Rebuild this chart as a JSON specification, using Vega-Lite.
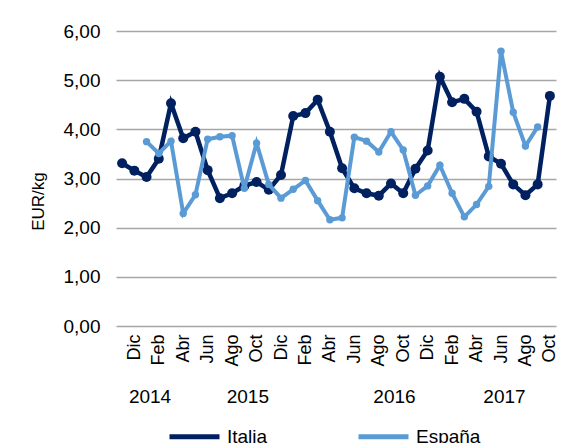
{
  "$schema": "https://vega.github.io/schema/vega-lite/v6.json",
  "width": 440,
  "height": 295,
  "autosize": {"type": "none"},
  "padding": {"left": 116, "top": 31, "right": 23, "bottom": 117},
  "background": "white",
  "config": {
    "font": "Liberation Sans",
    "view": {"stroke": null},
    "axis": {"labelColor": "#000000", "titleColor": "#000000", "labelFont": "Liberation Sans", "titleFont": "Liberation Sans"},
    "legend": {"labelFont": "Liberation Sans"}
  },
  "data": {
    "values": [
      {"mes": "2014-11", "pais": "Italia", "valor": 3.31},
      {"mes": "2014-12", "pais": "Italia", "valor": 3.16},
      {"mes": "2015-01", "pais": "Italia", "valor": 3.03},
      {"mes": "2015-02", "pais": "Italia", "valor": 3.40},
      {"mes": "2015-03", "pais": "Italia", "valor": 4.53},
      {"mes": "2015-04", "pais": "Italia", "valor": 3.82},
      {"mes": "2015-05", "pais": "Italia", "valor": 3.95},
      {"mes": "2015-06", "pais": "Italia", "valor": 3.17},
      {"mes": "2015-07", "pais": "Italia", "valor": 2.60},
      {"mes": "2015-08", "pais": "Italia", "valor": 2.70},
      {"mes": "2015-09", "pais": "Italia", "valor": 2.85},
      {"mes": "2015-10", "pais": "Italia", "valor": 2.93},
      {"mes": "2015-11", "pais": "Italia", "valor": 2.77},
      {"mes": "2015-12", "pais": "Italia", "valor": 3.07},
      {"mes": "2016-01", "pais": "Italia", "valor": 4.27},
      {"mes": "2016-02", "pais": "Italia", "valor": 4.33},
      {"mes": "2016-03", "pais": "Italia", "valor": 4.60},
      {"mes": "2016-04", "pais": "Italia", "valor": 3.95},
      {"mes": "2016-05", "pais": "Italia", "valor": 3.21},
      {"mes": "2016-06", "pais": "Italia", "valor": 2.80},
      {"mes": "2016-07", "pais": "Italia", "valor": 2.70},
      {"mes": "2016-08", "pais": "Italia", "valor": 2.65},
      {"mes": "2016-09", "pais": "Italia", "valor": 2.90},
      {"mes": "2016-10", "pais": "Italia", "valor": 2.70},
      {"mes": "2016-11", "pais": "Italia", "valor": 3.20},
      {"mes": "2016-12", "pais": "Italia", "valor": 3.57},
      {"mes": "2017-01", "pais": "Italia", "valor": 5.07},
      {"mes": "2017-02", "pais": "Italia", "valor": 4.55},
      {"mes": "2017-03", "pais": "Italia", "valor": 4.62},
      {"mes": "2017-04", "pais": "Italia", "valor": 4.36},
      {"mes": "2017-05", "pais": "Italia", "valor": 3.45},
      {"mes": "2017-06", "pais": "Italia", "valor": 3.30},
      {"mes": "2017-07", "pais": "Italia", "valor": 2.88},
      {"mes": "2017-08", "pais": "Italia", "valor": 2.66},
      {"mes": "2017-09", "pais": "Italia", "valor": 2.88},
      {"mes": "2017-10", "pais": "Italia", "valor": 4.68},
      {"mes": "2015-01", "pais": "España", "valor": 3.75},
      {"mes": "2015-02", "pais": "España", "valor": 3.51},
      {"mes": "2015-03", "pais": "España", "valor": 3.76},
      {"mes": "2015-04", "pais": "España", "valor": 2.29},
      {"mes": "2015-05", "pais": "España", "valor": 2.67},
      {"mes": "2015-06", "pais": "España", "valor": 3.80},
      {"mes": "2015-07", "pais": "España", "valor": 3.85},
      {"mes": "2015-08", "pais": "España", "valor": 3.87},
      {"mes": "2015-09", "pais": "España", "valor": 2.80},
      {"mes": "2015-10", "pais": "España", "valor": 3.72},
      {"mes": "2015-11", "pais": "España", "valor": 2.88},
      {"mes": "2015-12", "pais": "España", "valor": 2.60},
      {"mes": "2016-01", "pais": "España", "valor": 2.78},
      {"mes": "2016-02", "pais": "España", "valor": 2.96},
      {"mes": "2016-03", "pais": "España", "valor": 2.55},
      {"mes": "2016-04", "pais": "España", "valor": 2.16},
      {"mes": "2016-05", "pais": "España", "valor": 2.20},
      {"mes": "2016-06", "pais": "España", "valor": 3.84},
      {"mes": "2016-07", "pais": "España", "valor": 3.76},
      {"mes": "2016-08", "pais": "España", "valor": 3.54},
      {"mes": "2016-09", "pais": "España", "valor": 3.95},
      {"mes": "2016-10", "pais": "España", "valor": 3.58},
      {"mes": "2016-11", "pais": "España", "valor": 2.66},
      {"mes": "2016-12", "pais": "España", "valor": 2.85},
      {"mes": "2017-01", "pais": "España", "valor": 3.27},
      {"mes": "2017-02", "pais": "España", "valor": 2.70},
      {"mes": "2017-03", "pais": "España", "valor": 2.22},
      {"mes": "2017-04", "pais": "España", "valor": 2.47},
      {"mes": "2017-05", "pais": "España", "valor": 2.84},
      {"mes": "2017-06", "pais": "España", "valor": 5.59},
      {"mes": "2017-07", "pais": "España", "valor": 4.35},
      {"mes": "2017-08", "pais": "España", "valor": 3.66},
      {"mes": "2017-09", "pais": "España", "valor": 4.05}
    ]
  },
  "encoding": {
    "y": {
      "field": "valor",
      "type": "quantitative",
      "scale": {"domain": [0, 6], "nice": false, "zero": true},
      "axis": {
        "values": [0, 1, 2, 3, 4, 5, 6],
        "labelExpr": "replace(format(datum.value, '.2f'), '.', ',')",
        "domain": false,
        "ticks": false,
        "labelPadding": 16,
        "labelFontSize": 19,
        "gridColor": "#A6A6A6",
        "gridWidth": 1.5,
        "title": "EUR/kg",
        "titleFontSize": 17,
        "titleFontWeight": "normal",
        "titlePadding": 16,
        "titleY": 170,
        "titleAlign": "center"
      }
    },
    "color": {
      "field": "pais",
      "type": "nominal",
      "scale": {"domain": ["Italia", "España"], "range": ["#002060", "#5B9BD5"]},
      "legend": {
        "title": null,
        "orient": "none",
        "direction": "horizontal",
        "legendX": 51,
        "legendY": 378,
        "symbolType": "stroke",
        "symbolSize": 2500,
        "symbolStrokeWidth": 5,
        "labelFontSize": 19,
        "labelOffset": 5,
        "columnPadding": 80,
        "labelColor": "#000000"
      }
    }
  },
  "layer": [
    {
      "transform": [{"filter": "datum.pais === 'Italia'"}],
      "mark": {"type": "line", "strokeWidth": 4.5},
      "encoding": {
        "x": {
          "field": "mes",
          "type": "ordinal",
          "scale": {"type": "point", "padding": 0.5},
          "axis": {
            "orient": "bottom",
            "values": ["2014-12", "2015-02", "2015-04", "2015-06", "2015-08", "2015-10", "2015-12", "2016-02", "2016-04", "2016-06", "2016-08", "2016-10", "2016-12", "2017-02", "2017-04", "2017-06", "2017-08", "2017-10"],
            "labelExpr": "['Ene','Feb','Mar','Abr','May','Jun','Jul','Ago','Sep','Oct','Nov','Dic'][toNumber(slice(datum.value, 5)) - 1]",
            "labelAngle": -90,
            "labelAlign": "right",
            "labelBaseline": "middle",
            "labelPadding": 8,
            "labelFontSize": 18,
            "ticks": false,
            "domain": false,
            "grid": false,
            "title": null
          }
        }
      }
    },
    {
      "transform": [{"filter": "datum.pais === 'Italia'"}],
      "mark": {"type": "point", "filled": true, "opacity": 1, "size": 100},
      "encoding": {"x": {"field": "mes", "type": "ordinal", "axis": null}}
    },
    {
      "transform": [{"filter": "datum.pais === 'España'"}],
      "mark": {"type": "line", "strokeWidth": 4},
      "encoding": {"x": {"field": "mes", "type": "ordinal", "axis": null}}
    },
    {
      "transform": [{"filter": "datum.pais === 'España'"}],
      "mark": {"type": "point", "filled": true, "opacity": 1, "size": 55},
      "encoding": {
        "x": {
          "field": "mes",
          "type": "ordinal",
          "axis": {
            "orient": "bottom",
            "values": ["2015-01", "2015-09", "2016-09", "2017-06"],
            "labelExpr": "datum.value === '2015-01' ? '2014' : slice(datum.value, 0, 4)",
            "labelAngle": 0,
            "labelAlign": "center",
            "labelBaseline": "top",
            "labelOffset": 3,
            "labelPadding": 0,
            "labelFontSize": 19,
            "offset": 61,
            "ticks": false,
            "domain": false,
            "grid": false,
            "title": null
          }
        }
      }
    }
  ],
  "resolve": {"axis": {"x": "independent"}}
}
